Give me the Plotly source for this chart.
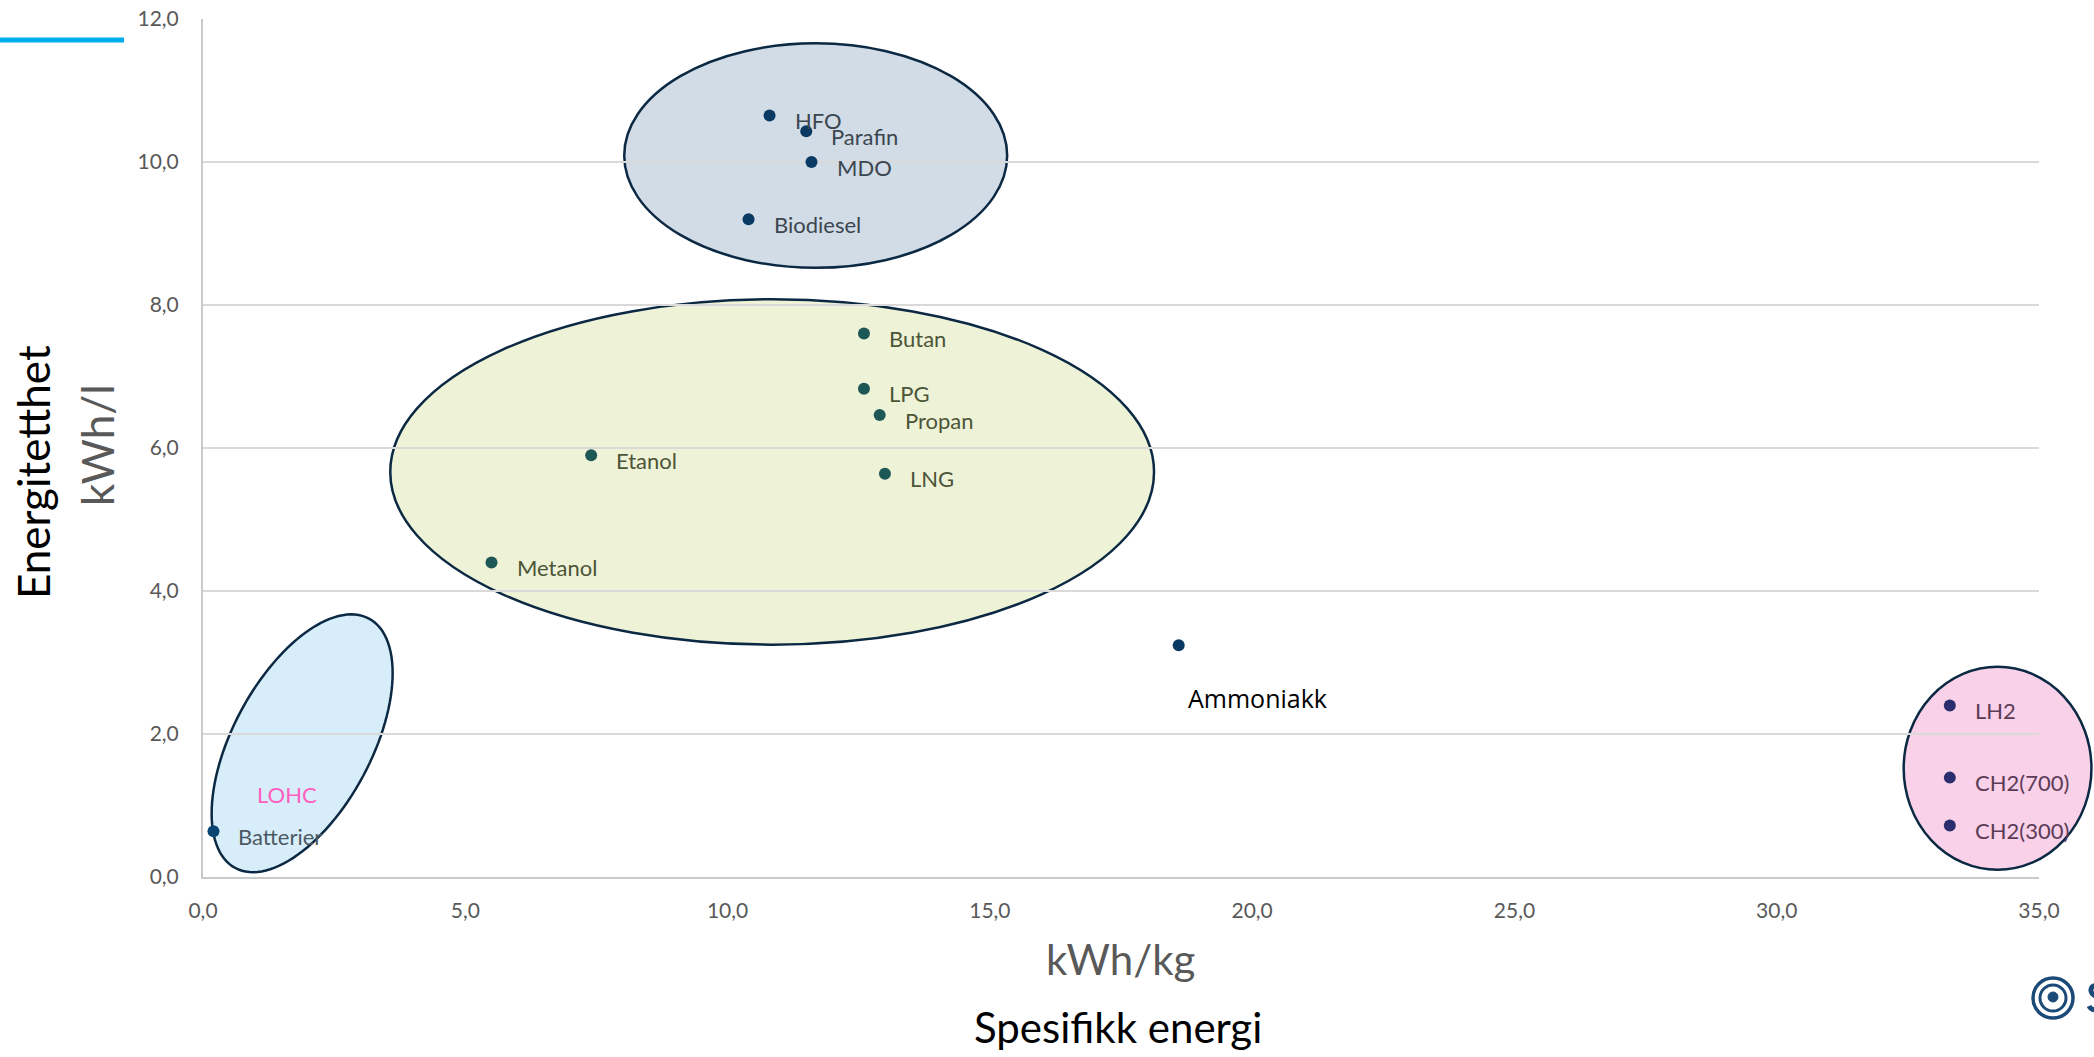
import math
import plotly.graph_objects as go

# Energibærere: spesifikk energi (kWh/kg) og energitetthet (kWh/l)
fuels = ["HFO", "Parafin", "MDO", "Biodiesel",
         "Butan", "LPG", "Propan", "LNG", "Etanol", "Metanol",
         "Ammoniakk", "Batterier",
         "LH2", "CH2(700)", "CH2(300)"]
spesifikk_energi = [10.8, 11.5, 11.6, 10.4,
                    12.6, 12.6, 12.9, 13.0, 7.4, 5.5,
                    18.6, 0.2,
                    33.3, 33.3, 33.3]
energitetthet = [10.65, 10.43, 10.0, 9.2,
                 7.6, 6.83, 6.46, 5.64, 5.9, 4.4,
                 3.24, 0.64,
                 2.4, 1.39, 0.72]
grupper = (["olje"] * 4 + ["gass"] * 6 +
           ["ammoniakk", "batteri"] + ["hydrogen"] * 3)

x_ticks = [0, 5, 10, 15, 20, 25, 30, 35]
y_ticks = [0, 2, 4, 6, 8, 10, 12]

# Figure geometry (pixels)
W_FIG, H_FIG = 2094, 1057
M_L, M_R, M_T, M_B = 203, 55, 19, 180
PW = W_FIG - M_L - M_R
PH = H_FIG - M_T - M_B
X_MAX, Y_MAX = 35, 12

FONT = "Lato, Carlito, Calibri, sans-serif"
LOGO = "#1b4a78"

group_style = {
    "olje":      dict(marker="#0a3a64", text="#3c4650"),
    "gass":      dict(marker="#1d5756", text="#4c5538"),
    "ammoniakk": dict(marker="#0a3a64", text="#000000"),
    "batteri":   dict(marker="#0a4572", text="#4d5964"),
    "hydrogen":  dict(marker="#2a2e6c", text="#5c3b55"),
}


def px_to_paper(xp, yp):
    return (xp - M_L) / PW, (M_T + PH - yp) / PH


def data_to_paper(x, y):
    return x / X_MAX, y / Y_MAX


def ellipse_shape(cx, cy, rx, ry, fill):
    x0, y0 = data_to_paper(cx - rx, cy - ry)
    x1, y1 = data_to_paper(cx + rx, cy + ry)
    return dict(type="circle", xref="paper", yref="paper",
                x0=x0, y0=y0, x1=x1, y1=y1, layer="below",
                fillcolor=fill, line=dict(color="#0c2944", width=2.5))


def tilted_ellipse_shape(cx, cy, a_px, b_px, angle_deg, fill, n=120):
    pcx, pcy = data_to_paper(cx, cy)
    th = math.radians(angle_deg)
    pts = []
    for i in range(n):
        t = 2 * math.pi * i / n
        dx = a_px * math.cos(t) * math.cos(th) - b_px * math.sin(t) * math.sin(th)
        dy = a_px * math.cos(t) * math.sin(th) + b_px * math.sin(t) * math.cos(th)
        pts.append(f"{pcx + dx / PW:.5f},{pcy + dy / PH:.5f}")
    path = "M " + " L ".join(pts) + " Z"
    return dict(type="path", xref="paper", yref="paper", path=path,
                layer="below", fillcolor=fill,
                line=dict(color="#0c2944", width=2.5))


def px_path(points):
    """SVG path string in paper coordinates from a list of (cmd, x, y...) pixel points."""
    parts = []
    for cmd, *coords in points:
        xy = []
        for i in range(0, len(coords), 2):
            px_, py_ = px_to_paper(coords[i], coords[i + 1])
            xy.append(f"{px_:.5f},{py_:.5f}")
        parts.append(cmd + " " + " ".join(xy))
    return " ".join(parts)


fig = go.Figure()

for g, st in group_style.items():
    idx = [i for i, gg in enumerate(grupper) if gg == g]
    fig.add_trace(go.Scatter(
        x=[spesifikk_energi[i] for i in idx],
        y=[energitetthet[i] for i in idx],
        mode="markers",
        marker=dict(color=st["marker"], size=12),
        name=g, showlegend=False, cliponaxis=False,
    ))

annotations = []
for name, x, y, g in zip(fuels, spesifikk_energi, energitetthet, grupper):
    st = group_style[g]
    if g == "ammoniakk":
        annotations.append(dict(
            x=x, y=y, xref="x", yref="y", text=name, showarrow=False,
            xanchor="left", yanchor="middle", xshift=7, yshift=-53,
            font=dict(family="Open Sans", size=25, color=st["text"])))
    else:
        annotations.append(dict(
            x=x, y=y, xref="x", yref="y", text=name, showarrow=False,
            xanchor="left", yanchor="middle", xshift=23, yshift=-5,
            font=dict(family=FONT, size=22, color=st["text"])))

# LOHC region label
annotations.append(dict(x=1.6, y=1.15, xref="x", yref="y", text="LOHC",
                        showarrow=False, xanchor="center", yanchor="middle",
                        font=dict(family=FONT, size=22, color="#ff5fc0")))

# Axis titles
ax, ay = px_to_paper(33, 472)
annotations.append(dict(x=ax, y=ay, xref="paper", yref="paper",
                        text="Energitetthet", textangle=-90, showarrow=False,
                        xanchor="center", yanchor="middle",
                        font=dict(family=FONT, size=44, color="#000000")))
ax, ay = px_to_paper(97, 445)
annotations.append(dict(x=ax, y=ay, xref="paper", yref="paper",
                        text="kWh/l", textangle=-90, showarrow=False,
                        xanchor="center", yanchor="middle",
                        font=dict(family=FONT, size=44, color="#595959")))
ax, ay = px_to_paper(1120, 959)
annotations.append(dict(x=ax, y=ay, xref="paper", yref="paper",
                        text="kWh/kg", showarrow=False,
                        xanchor="center", yanchor="middle",
                        font=dict(family=FONT, size=42, color="#595959")))
ax, ay = px_to_paper(1118, 1027)
annotations.append(dict(x=ax, y=ay, xref="paper", yref="paper",
                        text="Spesifikk energi", showarrow=False,
                        xanchor="center", yanchor="middle",
                        font=dict(family=FONT, size=42, color="#000000")))

shapes = [
    ellipse_shape(11.68, 10.09, 3.65, 1.57, "#d1dce6"),
    ellipse_shape(10.85, 5.665, 7.28, 2.415, "#eef2d6"),
    ellipse_shape(34.21, 1.52, 1.79, 1.42, "#f9d1e9"),
    tilted_ellipse_shape(1.89, 1.87, 141.5, 69.2, 61.8, "#d7edf9"),
]

# Accent line in the top-left corner
lx0, ly = px_to_paper(0, 40)
lx1, _ = px_to_paper(124, 40)
shapes.append(dict(type="line", xref="paper", yref="paper",
                   x0=lx0, x1=lx1, y0=ly, y1=ly,
                   line=dict(color="#00aeef", width=5)))

# Logo mark at the bottom right edge: rings, inner comma and the first letter
lcx, lcy = 2053, 998
for r, w in [(20, 3.5), (13, 3)]:
    x0, y0 = px_to_paper(lcx - r, lcy + r)
    x1, y1 = px_to_paper(lcx + r, lcy - r)
    shapes.append(dict(type="circle", xref="paper", yref="paper",
                       x0=x0, y0=y0, x1=x1, y1=y1,
                       line=dict(color=LOGO, width=w)))
x0, y0 = px_to_paper(lcx - 5, lcy + 4)
x1, y1 = px_to_paper(lcx + 5, lcy - 6)
shapes.append(dict(type="circle", xref="paper", yref="paper",
                   x0=x0, y0=y0, x1=x1, y1=y1, fillcolor=LOGO,
                   line=dict(color=LOGO, width=1)))
shapes.append(dict(type="path", xref="paper", yref="paper",
                   path=px_path([("M", 2104, 990),
                                 ("C", 2100, 984, 2090, 984, 2091, 991),
                                 ("C", 2092, 998, 2104, 997, 2104, 1004),
                                 ("C", 2104, 1011, 2092, 1012, 2089, 1006)]),
                   line=dict(color=LOGO, width=5)))

fig.update_layout(
    width=W_FIG, height=H_FIG,
    margin=dict(l=M_L, r=M_R, t=M_T, b=M_B, autoexpand=False),
    paper_bgcolor="#ffffff",
    plot_bgcolor="rgba(0,0,0,0)",
    separators=",.",
    showlegend=False,
    shapes=shapes,
    annotations=annotations,
    xaxis=dict(range=[0, X_MAX], tickvals=x_ticks, tickformat=".1f",
               automargin=False,
               showgrid=False, zeroline=False,
               showline=True, linecolor="#c9c9c9", linewidth=2,
               ticks="", ticklabelstandoff=14,
               tickfont=dict(family=FONT, size=21, color="#595959")),
    yaxis=dict(range=[0, Y_MAX], tickvals=y_ticks, tickformat=".1f",
               automargin=False,
               showgrid=True, gridcolor="#d9d9d9", gridwidth=1.5,
               zeroline=False,
               showline=True, linecolor="#c9c9c9", linewidth=2,
               ticks="", ticklabelstandoff=18,
               tickfont=dict(family=FONT, size=21, color="#595959")),
)

fig.write_html("out.html", config={"displayModeBar": False})
